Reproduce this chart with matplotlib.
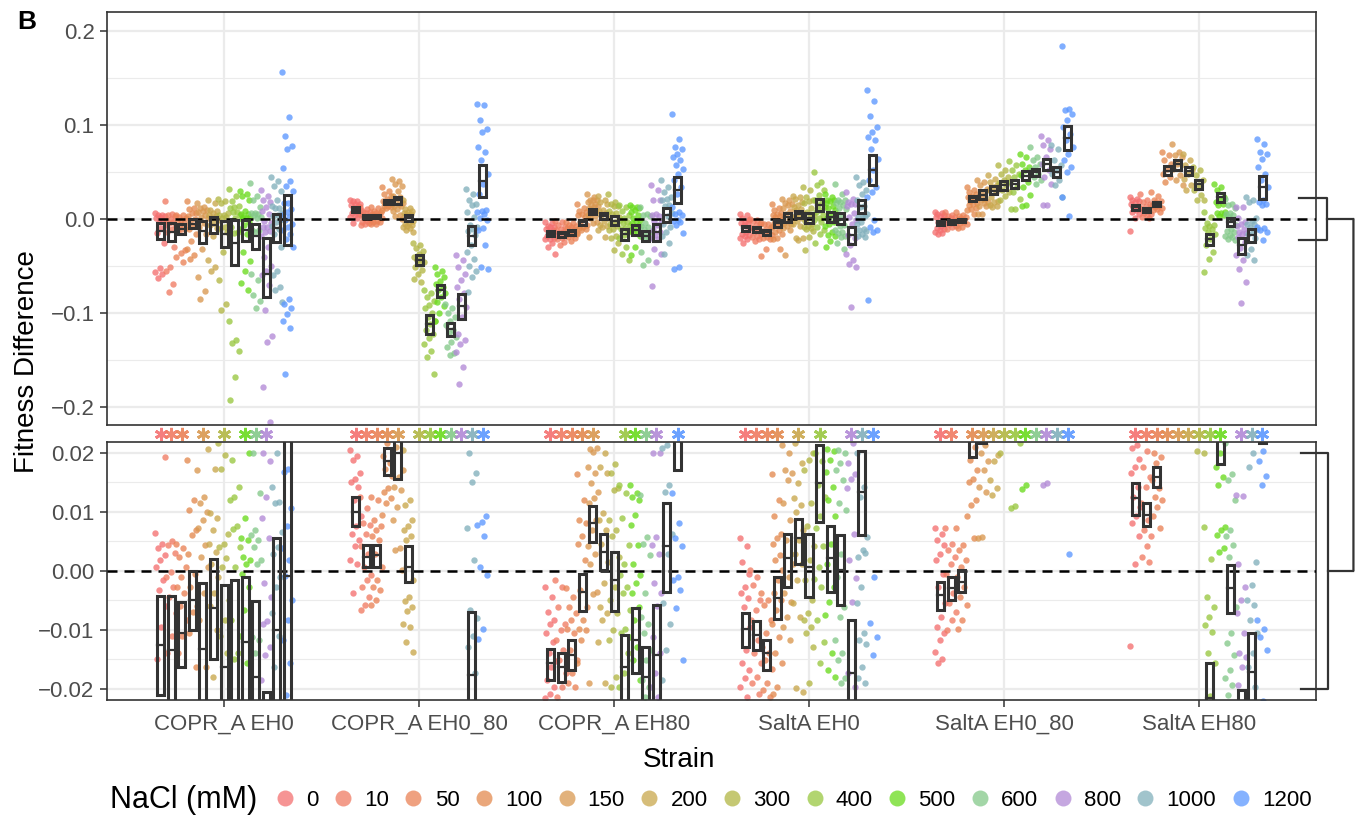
import numpy as np
import matplotlib
matplotlib.use("Agg")
import matplotlib.pyplot as plt
from matplotlib.lines import Line2D
from matplotlib.patches import Rectangle, ConnectionPatch
from matplotlib.transforms import blended_transform_factory

plt.rcParams['font.family'] = ['Liberation Sans', 'DejaVu Sans']

strains = ["COPR_A EH0", "COPR_A EH0_80", "COPR_A EH80", "SaltA EH0", "SaltA EH0_80", "SaltA EH80"]
nacl = ["0", "10", "50", "100", "150", "200", "300", "400", "500", "600", "800", "1000", "1200"]
nacl_colors = ["#F47070", "#F07B63", "#EA8256", "#E38A4F", "#D99850", "#C9A74C", "#B2B644",
               "#99C740", "#6ADB1E", "#84C98A", "#B28AD6", "#82B0BC", "#5C98FF"]

# fitness difference of each replicate, one list per NaCl level
copr_eh0 = [
    [0.0064, 0.0045, 0.0038, 0.0027, 0.0018, 0.0007, -0.0016, -0.0033, -0.006, -0.0095, -0.015, -0.025, -0.052, -0.056, -0.058, -0.063],
    [0.0193, 0.005, 0.0043, 0.003, -0.0002, -0.001, -0.0027, -0.0044, -0.0072, -0.011, -0.014, -0.03, -0.051, -0.055, -0.069, -0.078],
    [0.0046, 0.0038, 0.0024, 0.0007, -0.001, -0.0027, -0.0038, -0.006, -0.0084, -0.011, -0.014, -0.033, -0.036, -0.04, -0.046],
    [0.0188, 0.012, 0.0103, 0.0069, 0.006, 0.0029, -0.0005, -0.0027, -0.006, -0.007, -0.0106, -0.0163, -0.023, -0.032, -0.038, -0.042],
    [0.017, 0.0125, 0.0114, 0.01, 0.0086, 0.0072, 0.0044, 0.0024, 0.0007, -0.0038, -0.0084, -0.0163, -0.032, -0.062, -0.077, -0.085],
    [0.0206, 0.0173, 0.0097, 0.0089, 0.0069, 0.0046, 0.0032, 0.0012, -0.001, -0.0038, -0.006, -0.01, -0.018, -0.044, -0.051, -0.055],
    [0.0216, 0.0196, 0.0173, 0.0063, 0.0046, 0.004, 0.0021, 0.0007, -0.005, -0.0084, -0.011, -0.014, -0.035, -0.065, -0.09, -0.097],
    [0.032, 0.025, 0.0188, 0.0142, 0.0125, 0.012, 0.0075, 0.007, 0.004, 0.0007, -0.0084, -0.014, -0.015, -0.108, -0.129, -0.132, -0.14, -0.168, -0.192],
    [0.03, 0.027, 0.024, 0.0199, 0.0089, 0.0055, 0.0052, 0.0024, 0.0018, 0.0012, -0.0005, -0.0027, -0.0066, -0.011, -0.0157, -0.035, -0.045, -0.055, -0.068, -0.075],
    [0.038, 0.025, 0.02, 0.0131, 0.0069, 0.006, 0.0052, 0.004, 0.0018, 0.0012, -0.0112, -0.0117, -0.014, -0.058, -0.065, -0.081, -0.087, -0.095],
    [0.031, 0.025, 0.02, 0.0186, 0.0125, 0.0089, 0.0055, -0.0021, -0.0044, -0.0086, -0.009, -0.0129, -0.0143, -0.0185, -0.03, -0.04, -0.05, -0.055, -0.06, -0.07, -0.097, -0.124, -0.131, -0.179, -0.216],
    [0.0447, 0.04, 0.035, 0.03, 0.02, 0.0142, 0.0117, 0.0114, 0.0066, 0.004, 0.0029, -0.001, -0.0027, -0.0072, -0.011, -0.0163, -0.03, -0.055, -0.06, -0.072, -0.076, -0.088],
    [0.156, 0.1085, 0.088, 0.078, 0.075, 0.054, 0.04, 0.035, 0.03, 0.0173, 0.0167, 0.0106, 0.0075, 0.0038, 0.0018, -0.0009, -0.005, -0.0084, -0.0117, -0.0157, -0.021, -0.03, -0.085, -0.09, -0.095, -0.101, -0.108, -0.116, -0.165],
]
copr_eh0_80 = [
    [0.0205, 0.0195, 0.0188, 0.0165, 0.0156, 0.015, 0.0142, 0.012, 0.0092, 0.0075, 0.0063, 0.0052, 0.0041, 0.0018, 0.0012, -0.0037],
    [0.0124, 0.0106, 0.008, 0.0077, 0.0063, 0.0041, 0.0029, 0.0007, -0.0007, -0.0016, -0.0027, -0.0044, -0.0058, -0.0067],
    [0.0125, 0.012, 0.0086, 0.0075, 0.0069, 0.0058, 0.0052, 0.0029, 0.0007, -0.0016, -0.0027, -0.0033, -0.005, -0.0058],
    [0.034, 0.03, 0.027, 0.025, 0.0216, 0.0195, 0.0183, 0.0172, 0.016, 0.014, 0.0134, 0.0123, 0.0114, 0.0094],
    [0.043, 0.04, 0.037, 0.035, 0.03, 0.025, 0.023, 0.021, 0.017, 0.0159, 0.0142, 0.0136, 0.0108, 0.0086, 0.0038, 0.0035, 0.0001],
    [0.0205, 0.012, 0.0111, 0.0086, 0.0075, 0.0069, 0.0058, 0.0052, -0.0016, -0.0044, -0.0052, -0.0061, -0.0069, -0.009, -0.0095, -0.012, -0.0138],
    [-0.026, -0.028, -0.031, -0.034, -0.037, -0.04, -0.042, -0.044, -0.046, -0.048, -0.051, -0.054, -0.058, -0.0635, -0.067],
    [-0.076, -0.079, -0.083, -0.087, -0.091, -0.095, -0.1, -0.104, -0.108, -0.112, -0.118, -0.122, -0.127, -0.133, -0.14, -0.147, -0.165],
    [-0.051, -0.055, -0.058, -0.062, -0.066, -0.069, -0.072, -0.075, -0.079, -0.083, -0.088, -0.093, -0.1, -0.108],
    [-0.09, -0.095, -0.1, -0.104, -0.108, -0.113, -0.118, -0.121, -0.126, -0.131, -0.136, -0.143, -0.145],
    [-0.0387, -0.044, -0.051, -0.058, -0.065, -0.072, -0.079, -0.085, -0.094, -0.104, -0.122, -0.129, -0.133, -0.141, -0.157, -0.175],
    [0.032, 0.027, 0.02, 0.0165, 0.0151, 0.0072, 0.0018, -0.0067, -0.008, -0.011, -0.0129, -0.0174, -0.028, -0.035, -0.042, -0.05, -0.055, -0.062, -0.078],
    [0.1227, 0.121, 0.105, 0.096, 0.093, 0.0766, 0.071, 0.0624, 0.048, 0.0376, 0.027, 0.0092, 0.0083, 0.0078, 0.0058, 0.0007, -0.0007, -0.0098, -0.0115, -0.028, -0.051, -0.053],
]
copr_eh80 = [
    [-0.0027, -0.0044, -0.007, -0.0084, -0.009, -0.0106, -0.012, -0.014, -0.0153, -0.0163, -0.0185, -0.0197, -0.0208, -0.0215, -0.025, -0.03, -0.037],
    [-0.0016, -0.0027, -0.0061, -0.009, -0.0101, -0.0118, -0.0134, -0.0151, -0.0174, -0.0197, -0.0214, -0.024, -0.028],
    [-0.003, -0.0044, -0.0061, -0.0072, -0.0084, -0.0098, -0.0106, -0.0134, -0.0151, -0.0174, -0.0191, -0.0197, -0.023],
    [0.0163, 0.012, 0.0086, 0.008, 0.0058, 0.0046, 0.0018, -0.0033, -0.0061, -0.0084, -0.0098, -0.0101, -0.0118, -0.0156],
    [0.027, 0.0234, 0.0206, 0.0207, 0.0201, 0.0176, 0.0165, 0.0148, 0.0134, 0.0123, 0.0114, 0.0086, 0.0069, 0.0041, 0.0029, 0.0012, -0.0036, -0.004, -0.019],
    [0.025, 0.0199, 0.0176, 0.0165, 0.0097, 0.0086, 0.0069, 0.0046, 0.0015, -0.0021, -0.0061, -0.0072, -0.0084, -0.012, -0.019],
    [0.027, 0.018, 0.0165, 0.014, 0.0137, 0.0086, 0.0069, 0.0058, 0.0024, -0.0027, -0.005, -0.0072, -0.0101, -0.0118, -0.018, -0.0197, -0.026, -0.033],
    [0.0145, 0.0131, 0.0089, 0.0044, 0.0012, -0.0007, -0.0027, -0.0038, -0.0066, -0.0098, -0.0106, -0.014, -0.0174, -0.0197, -0.03, -0.037, -0.044],
    [0.0145, 0.0131, 0.0125, 0.012, 0.0094, 0.0077, 0.0044, 0.0012, -0.0007, -0.0021, -0.0038, -0.0061, -0.0084, -0.0112, -0.0129, -0.0151, -0.0185, -0.03, -0.0387],
    [0.0128, 0.0057, 0.0046, 0.0027, -0.0038, -0.0078, -0.009, -0.0106, -0.0134, -0.0151, -0.0185, -0.0197, -0.0214, -0.035, -0.044, -0.049],
    [0.0358, 0.031, 0.02, 0.0199, 0.0057, 0.0044, 0.0029, -0.0021, -0.0038, -0.006, -0.0112, -0.014, -0.0174, -0.0197, -0.0214, -0.032, -0.037, -0.0457, -0.0716],
    [0.041, 0.034, 0.0287, 0.0234, 0.0213, 0.0207, 0.0145, 0.0134, 0.0063, 0.0029, -0.0055, -0.009, -0.0134, -0.0185, -0.026, -0.037],
    [0.112, 0.0855, 0.0766, 0.075, 0.0695, 0.066, 0.0624, 0.057, 0.0535, 0.048, 0.041, 0.034, 0.027, 0.0131, 0.008, 0.0055, 0.0041, -0.001, -0.0016, -0.0033, -0.0064, -0.0151, -0.051, -0.053],
]
salta_eh0 = [
    [0.0055, 0.0042, 0.0014, -0.0006, -0.0027, -0.0038, -0.0047, -0.0061, -0.0095, -0.0134, -0.0157, -0.0168, -0.0182, -0.0197, -0.0214, -0.025],
    [0.0001, -0.001, -0.0024, -0.005, -0.0067, -0.0084, -0.0118, -0.014, -0.0157, -0.018, -0.0191, -0.0208, -0.023],
    [-0.0038, -0.005, -0.0058, -0.0084, -0.0106, -0.0129, -0.014, -0.0151, -0.0166, -0.0191, -0.0202, -0.0214, -0.032, -0.039],
    [0.0163, 0.012, 0.0092, 0.0063, 0.0055, 0.0046, 0.0027, 0.0018, 0.0001, -0.0016, -0.0038, -0.005, -0.0067, -0.009, -0.0112, -0.014, -0.0157, -0.0197, -0.0208, -0.0316],
    [0.0213, 0.02, 0.0171, 0.0165, 0.0154, 0.0114, 0.0086, 0.0052, 0.0012, -0.001, -0.0038, -0.0053, -0.0078, -0.0095, -0.0118, -0.0387],
    [0.025, 0.023, 0.0216, 0.0182, 0.0148, 0.0123, 0.0111, 0.01, 0.0069, 0.0052, 0.0029, 0.0012, -0.0016, -0.0055, -0.0078, -0.0199, -0.0205, -0.0227],
    [0.034, 0.031, 0.0234, 0.02, 0.0188, 0.0171, 0.0114, 0.0075, 0.0041, 0.0018, -0.0016, -0.005, -0.0072, -0.0084, -0.0095, -0.0106, -0.0129, -0.019, -0.033],
    [0.05, 0.039, 0.0358, 0.0305, 0.0252, 0.0199, 0.0185, 0.0145, 0.0125, 0.0092, 0.0072, 0.0041, 0.0007, -0.0014, -0.0027, -0.0084, -0.012, -0.0156, -0.026],
    [0.027, 0.0234, 0.0206, 0.0202, 0.0188, 0.0168, 0.0142, 0.012, 0.0092, 0.0046, 0.0012, -0.0027, -0.0053, -0.0075, -0.014, -0.0168, -0.018, -0.023, -0.03],
    [0.0376, 0.027, 0.0205, 0.0199, 0.0182, 0.0171, 0.0154, 0.0114, 0.0103, 0.0029, -0.001, -0.0061, -0.0078, -0.0118, -0.014, -0.0151, -0.0182, -0.0191, -0.026, -0.0316],
    [0.0287, 0.0216, 0.0182, 0.0163, 0.0156, 0.014, 0.0063, 0.0018, -0.0013, -0.0053, -0.0174, -0.0197, -0.028, -0.037, -0.044, -0.0475, -0.051, -0.0936],
    [0.0447, 0.039, 0.0358, 0.0305, 0.027, 0.02, 0.0142, 0.0125, 0.0057, 0.0035, 0.0024, 0.003, -0.0027, -0.0055, -0.0106, -0.0118, -0.0124, -0.0163, -0.0182, -0.019],
    [0.137, 0.126, 0.11, 0.098, 0.0925, 0.087, 0.0837, 0.075, 0.064, 0.0518, 0.041, 0.034, 0.0287, 0.0234, -0.001, -0.0089, -0.0112, -0.0143, -0.0865],
]
salta_eh0_80 = [
    [0.0072, 0.0063, 0.0052, 0.0044, 0.0029, 0.0018, -0.0005, -0.0027, -0.0055, -0.0078, -0.0095, -0.0106, -0.0118, -0.0137, -0.0149, -0.0157],
    [0.0073, 0.0046, 0.0035, 0.0024, 0.0012, -0.0005, -0.0038, -0.0055, -0.007, -0.0084, -0.0101],
    [0.0073, 0.0044, 0.0035, 0.0018, 0.0007, -0.001, -0.0027, -0.0044, -0.0058, -0.0084, -0.0098],
    [0.034, 0.031, 0.0287, 0.027, 0.0245, 0.0231, 0.021, 0.0188, 0.0171, 0.0156, 0.0151, 0.012, 0.0111, 0.0092, 0.0055],
    [0.041, 0.039, 0.0358, 0.032, 0.027, 0.0234, 0.0213, 0.0199, 0.0185, 0.0171, 0.0142, 0.0134, 0.0057, 0.0055],
    [0.0465, 0.043, 0.039, 0.0358, 0.034, 0.0305, 0.0287, 0.0234, 0.0196, 0.0185, 0.0154, 0.014, 0.0128],
    [0.057, 0.052, 0.048, 0.0447, 0.041, 0.0387, 0.0358, 0.0305, 0.0287, 0.025, 0.02],
    [0.0617, 0.057, 0.052, 0.048, 0.0447, 0.0394, 0.034, 0.0287, 0.0216, 0.011, 0.0106],
    [0.0695, 0.066, 0.059, 0.0553, 0.052, 0.0465, 0.0394, 0.034, 0.0252, 0.0145, 0.0138],
    [0.0766, 0.066, 0.0624, 0.059, 0.0553, 0.0518, 0.0482, 0.0447, 0.041, 0.0376],
    [0.088, 0.0837, 0.0784, 0.0748, 0.066, 0.0589, 0.0518, 0.0447, 0.0376, 0.0149, 0.0145],
    [0.0784, 0.0748, 0.0624, 0.0571, 0.0518, 0.0482, 0.0411, 0.0358, 0.0234],
    [0.1837, 0.117, 0.1156, 0.112, 0.105, 0.098, 0.0908, 0.0837, 0.0766, 0.0695, 0.0624, 0.0553, 0.05, 0.0234, 0.0029],
]
salta_eh80 = [
    [0.0234, 0.0213, 0.0207, 0.019, 0.0176, 0.0165, 0.0142, 0.0125, 0.0108, 0.0092, 0.008, 0.0058, 0.0012, -0.0128],
    [0.027, 0.0202, 0.0176, 0.0159, 0.0142, 0.0114, 0.0086, 0.0069, 0.0058, 0.0041, 0.0024, 0.0015],
    [0.0287, 0.025, 0.0199, 0.0193, 0.0182, 0.0154, 0.014, 0.0125, 0.012, 0.0108, 0.0092, 0.0072],
    [0.0713, 0.0677, 0.0624, 0.0589, 0.0535, 0.0482, 0.0447, 0.0394],
    [0.0801, 0.0713, 0.0677, 0.066, 0.0589, 0.0535, 0.0465, 0.0411, 0.0358],
    [0.0695, 0.0624, 0.0571, 0.0518, 0.0482, 0.0429, 0.0358, 0.0305],
    [0.0553, 0.0518, 0.0465, 0.0411, 0.0358, 0.0305, 0.0252, 0.0202, 0.0199],
    [0.0074, 0.002, -0.0044, -0.0061, -0.0078, -0.0092, -0.0103, -0.014, -0.0157, -0.0213, -0.028, -0.035, -0.042, -0.056],
    [0.0376, 0.034, 0.0305, 0.0234, 0.0199, 0.0176, 0.0159, 0.0145, 0.0074, 0.0069, 0.006, 0.0038, 0.0032],
    [0.0216, 0.0163, 0.0154, 0.012, 0.0069, 0.0058, 0.0044, 0.0024, -0.0061, -0.0106, -0.0123, -0.0143, -0.0168, -0.0182, -0.0194, -0.0211, -0.0227],
    [0.0128, 0.0127, 0.0012, -0.0027, -0.005, -0.0072, -0.0106, -0.014, -0.0146, -0.0163, -0.0194, -0.024, -0.031, -0.038, -0.044, -0.053, -0.067, -0.089],
    [0.0234, 0.0199, 0.0176, 0.0015, -0.0024, -0.005, -0.0058, -0.0084, -0.0106, -0.014, -0.0163, -0.0197, -0.0316, -0.0387, -0.044],
    [0.0855, 0.0801, 0.0713, 0.0695, 0.0642, 0.0553, 0.0482, 0.0411, 0.034, 0.0203, 0.0186, 0.016, 0.0145, -0.0084, -0.0098, -0.0112, -0.0134, -0.022],
]

# interval boxes (low, centre, high) per NaCl level
copr_eh0_box = [(-0.021, -0.0126, -0.0042), (-0.023, -0.0134, -0.0042), (-0.0163, -0.0106, -0.0053),
                (-0.010, -0.005, 0.0), (-0.025, -0.0132, -0.002), (-0.0149, -0.0064, 0.0019),
                (-0.030, -0.0163, -0.0024), (-0.049, -0.025, -0.0015), (-0.023, -0.012, -0.0011),
                (-0.032, -0.018, -0.0051), (-0.083, -0.058, -0.0205), (-0.0245, -0.010, 0.0056),
                (-0.028, -0.0009, 0.026)]
copr_eh0_80_box = [(0.0075, 0.010, 0.0124), (0.0007, 0.0024, 0.0044), (0.0007, 0.0026, 0.0044),
                   (0.0162, 0.0185, 0.0207), (0.0156, 0.0199, 0.0234), (-0.0019, 0.0007, 0.0041),
                   (-0.049, -0.044, -0.0387), (-0.122, -0.112, -0.1025), (-0.083, -0.076, -0.0705),
                   (-0.124, -0.117, -0.111), (-0.106, -0.093, -0.0794), (-0.028, -0.0177, -0.007),
                   (0.0234, 0.040, 0.057)]
copr_eh80_box = [(-0.0185, -0.0157, -0.0132), (-0.0188, -0.0163, -0.014), (-0.0168, -0.0143, -0.0118),
                 (-0.0068, -0.0036, -0.0006), (0.0049, 0.008, 0.011), (0.0001, 0.0032, 0.0063),
                 (-0.0068, -0.0016, 0.0032), (-0.0227, -0.0163, -0.0109), (-0.0174, -0.0118, -0.0064),
                 (-0.0234, -0.018, -0.0129), (-0.0234, -0.0143, -0.0058), (-0.0036, 0.0041, 0.0114),
                 (0.017, 0.031, 0.0447)]
salta_eh0_box = [(-0.0129, -0.0098, -0.0071), (-0.0134, -0.0109, -0.0086), (-0.0168, -0.014, -0.0118),
                 (-0.0082, -0.0047, -0.0011), (-0.0027, 0.0021, 0.0063), (0.0012, 0.0055, 0.0088),
                 (-0.0044, 0.0007, 0.0063), (0.0083, 0.0148, 0.0213), (-0.0036, 0.0021, 0.0076),
                 (-0.0058, 0.0001, 0.006), (-0.027, -0.0174, -0.0084), (0.006, 0.0134, 0.0202),
                 (0.0358, 0.052, 0.0684)]
salta_eh0_80_box = [(-0.0067, -0.0041, -0.0019), (-0.005, -0.003, -0.001), (-0.0036, -0.0019, 0.0002),
                    (0.0193, 0.022, 0.025), (0.0216, 0.026, 0.0305), (0.0262, 0.030, 0.0348),
                    (0.0312, 0.036, 0.040), (0.0333, 0.037, 0.0418), (0.0411, 0.046, 0.051),
                    (0.0454, 0.050, 0.0535), (0.0518, 0.058, 0.0642), (0.0447, 0.050, 0.0553),
                    (0.073, 0.086, 0.0986)]
salta_eh80_box = [(0.0095, 0.0123, 0.0149), (0.0075, 0.0094, 0.0115), (0.0142, 0.0159, 0.0176),
                  (0.0465, 0.051, 0.056), (0.0525, 0.058, 0.0624), (0.0465, 0.051, 0.0553),
                  (0.0323, 0.037, 0.0418), (-0.028, -0.0215, -0.0156), (0.0181, 0.023, 0.0277),
                  (-0.0072, -0.003, 0.001), (-0.0369, -0.028, -0.0202), (-0.0245, -0.0171, -0.0106),
                  (0.0216, 0.034, 0.0457)]

# NaCl levels marked significant (asterisks)
copr_eh0_sig = ["0", "10", "50", "150", "300", "500", "600", "800"]
copr_eh0_80_sig = ["0", "10", "50", "100", "150", "300", "400", "500", "600", "800", "1000", "1200"]
copr_eh80_sig = ["0", "10", "50", "100", "150", "400", "500", "600", "800", "1200"]
salta_eh0_sig = ["0", "10", "50", "100", "200", "400", "800", "1000", "1200"]
salta_eh0_80_sig = ["0", "10", "100", "150", "200", "300", "400", "500", "600", "800", "1000", "1200"]
salta_eh80_sig = ["0", "10", "50", "100", "150", "200", "300", "400", "500", "800", "1000", "1200"]

points = [copr_eh0, copr_eh0_80, copr_eh80, salta_eh0, salta_eh0_80, salta_eh80]
boxes = [copr_eh0_box, copr_eh0_80_box, copr_eh80_box, salta_eh0_box, salta_eh0_80_box, salta_eh80_box]
sigs = [copr_eh0_sig, copr_eh0_80_sig, copr_eh80_sig, salta_eh0_sig, salta_eh0_80_sig, salta_eh80_sig]

STEP = 0.0543   # dodge between NaCl levels
BW = 0.036      # box width
DARK = "#333333"
GRID = "#EBEBEB"


def group_x(s, i):
    return s + 1 + (i - 6) * STEP


def draw_panel(ax):
    for s in range(len(strains)):
        for i in range(len(nacl)):
            xc = group_x(s, i)
            vals = points[s][i]
            jit = np.array([((k * 0.618034) % 1 - 0.5) * 0.058 for k in range(len(vals))])
            ax.scatter(xc + jit, vals, s=21, color=nacl_colors[i], alpha=0.78, lw=0, zorder=2)
            lo, mid, hi = boxes[s][i]
            ax.add_patch(Rectangle((xc - BW / 2, lo), BW, hi - lo, fill=False,
                                   ec=DARK, lw=2.2, zorder=4))
            ax.plot([xc - BW / 2, xc + BW / 2], [mid, mid], color=DARK, lw=1.6, zorder=4)
    ax.axhline(0, color="black", ls=(0, (4, 2.8)), lw=1.8, zorder=3)
    ax.set_xlim(0.4, 6.6)
    ax.set_xticks(range(1, 7))
    ax.grid(True, which="major", color=GRID, lw=1.6, zorder=0)
    ax.grid(True, which="minor", axis="y", color=GRID, lw=0.8, zorder=0)
    ax.set_axisbelow(True)
    for sp in ax.spines.values():
        sp.set_color(DARK)
        sp.set_linewidth(1.2)
    ax.tick_params(axis="y", which="major", length=5, width=1.1, color=DARK,
                   labelsize=16, labelcolor="#4D4D4D", pad=4)
    ax.tick_params(which="minor", length=0)


fig = plt.figure(figsize=(13.62, 8.17), dpi=100)
ax_top = fig.add_axes([0.0786, 0.4798, 0.8876, 0.5055])
ax_bot = fig.add_axes([0.0786, 0.1432, 0.8876, 0.3158])

draw_panel(ax_top)
ax_top.set_ylim(-0.2191, 0.2202)
ax_top.set_yticks([-0.2, -0.1, 0.0, 0.1, 0.2])
ax_top.set_yticklabels(["\u22120.2", "\u22120.1", "0.0", "0.1", "0.2"])
ax_top.set_yticks([-0.15, -0.05, 0.05, 0.15], minor=True)
ax_top.tick_params(axis="x", length=0, labelbottom=False)

draw_panel(ax_bot)
ax_bot.set_ylim(-0.0219, 0.0218)
ax_bot.set_yticks([-0.02, -0.01, 0.0, 0.01, 0.02])
ax_bot.set_yticklabels(["\u22120.02", "\u22120.01", "0.00", "0.01", "0.02"])
ax_bot.set_yticks([-0.015, -0.005, 0.005, 0.015], minor=True)
ax_bot.set_xticklabels(strains)
ax_bot.tick_params(axis="x", which="major", length=5, width=1.1, color=DARK,
                   labelsize=16, labelcolor="#4D4D4D", pad=5)

# significance asterisks between the panels
star_tr = blended_transform_factory(ax_top.transData, ax_top.transAxes)
for s, sig in enumerate(sigs):
    for lvl in sig:
        i = nacl.index(lvl)
        ax_top.plot(group_x(s, i), -0.022, marker=(6, 2, 0), ms=9.5, mew=2.0,
                    color=nacl_colors[i], alpha=0.9, transform=star_tr, clip_on=False)

# brackets linking the zoomed range
tr_top = blended_transform_factory(ax_top.transAxes, ax_top.transData)
tr_bot = blended_transform_factory(ax_bot.transAxes, ax_bot.transData)
ax_top.plot([0.986, 1.009, 1.009, 0.986], [0.022, 0.022, -0.022, -0.022], color=DARK,
            lw=1.6, transform=tr_top, clip_on=False)
ax_top.plot([1.009, 1.031], [0, 0], color=DARK, lw=1.6, transform=tr_top, clip_on=False)
ax_bot.plot([0.9876, 1.01, 1.01, 0.9876], [0.02, 0.02, -0.02, -0.02], color=DARK,
            lw=1.6, transform=tr_bot, clip_on=False)
ax_bot.plot([1.01, 1.031], [0, 0], color=DARK, lw=1.6, transform=tr_bot, clip_on=False)
con = ConnectionPatch((1.031, 0), (1.031, 0), coordsA=tr_top, coordsB=tr_bot,
                      color=DARK, lw=1.6)
fig.add_artist(con)

fig.text(17 / 1362, 1 - 22 / 817, "B", fontsize=19, fontweight="bold", va="center", ha="left")
fig.text(27 / 1362, 0.557, "Fitness Difference", rotation=90, fontsize=20, ha="center", va="center")
fig.text(679 / 1362, 1 - 760 / 817, "Strain", fontsize=20, ha="center", va="center")

# legend
fig.text(110 / 1362, 1 - 800 / 817, "NaCl (mM)", fontsize=22, ha="left", va="center")
handles = [Line2D([], [], ls="", marker="o", ms=11.5, mew=0, color=c, alpha=0.75) for c in nacl_colors]
fig.legend(handles, nacl, ncol=13, loc="center left", bbox_to_anchor=(274 / 1362, 1 - 800 / 817),
           frameon=False, fontsize=16, handlelength=1.0, handletextpad=0.45,
           columnspacing=0.6, borderaxespad=0, borderpad=0)

fig.savefig("out.png", dpi=100)
